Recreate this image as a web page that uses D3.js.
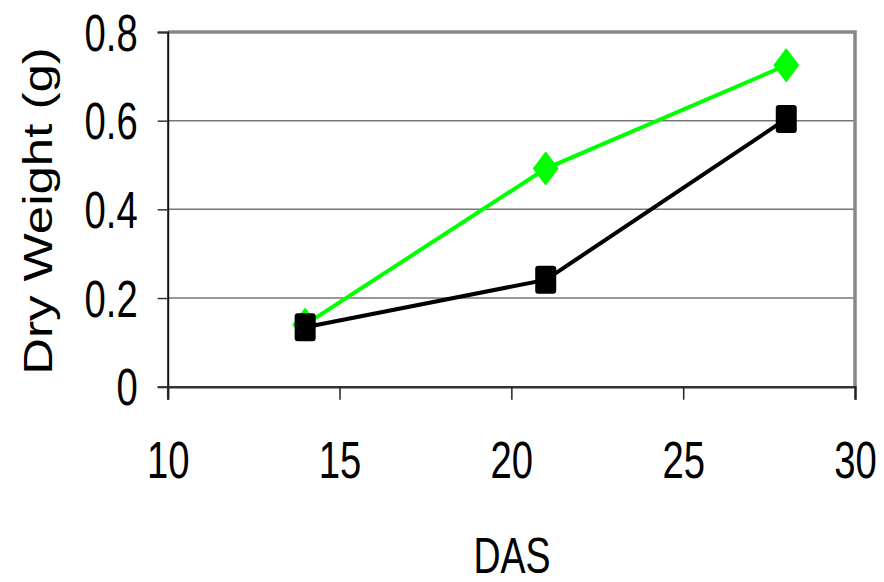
<!doctype html>
<html>
    <head>
        <script src="https://cdn.jsdelivr.net/npm/d3@7"></script>
        <style>
            html, body { margin: 0; padding: 0; background: #fff; }
            #viz svg { display: block; }
            text { font-family: "Liberation Sans", Arial, sans-serif; fill: #000; }
        </style>
    </head>
    <body>
        <div id="viz"></div>
        <script>
            // data
            var das = [14, 21, 28];
            var greenSeries = [0.14, 0.492, 0.725];
            var blackSeries = [0.134, 0.241, 0.604];
            var xTicks = [10, 15, 20, 25, 30];
            var yTicks = [0, 0.2, 0.4, 0.6, 0.8];

            var w = 884, h = 582;
            var plotLeft = 167.7, plotRight = 855, plotTop = 32, plotBottom = 386.7;
            var squeeze = 0.75; // glyphs in the reference are narrow

            var svg = d3.select("#viz").append("svg")
                .attr("width", w)
                .attr("height", h);

            var x = d3.scaleLinear().domain([10, 30]).range([plotLeft, plotRight]);
            var y = d3.scaleLinear().domain([0, 0.8]).range([plotBottom, plotTop]);

            // gridlines
            svg.selectAll("line.grid")
                .data(yTicks.filter(function (d) { return d > 0 && d < 0.8; }))
                .enter().append("line")
                    .attr("class", "grid")
                    .attr("x1", plotLeft).attr("x2", plotRight)
                    .attr("y1", function (d) { return y(d); })
                    .attr("y2", function (d) { return y(d); })
                    .attr("stroke", "#767676")
                    .attr("stroke-width", 1.5);

            // top and right frame
            svg.append("path")
                .attr("d", "M" + plotLeft + "," + plotTop + "H" + plotRight + "V" + plotBottom)
                .attr("fill", "none")
                .attr("stroke", "#888")
                .attr("stroke-width", 3.5);

            // y axis
            var yAxis = svg.append("g")
                .attr("transform", "translate(" + plotLeft + ",0)")
                .call(d3.axisLeft(y).tickValues(yTicks).tickSize(10).tickFormat(function (d) { return d === 0 ? "0" : d3.format(".1f")(d); }));
            yAxis.select(".domain").attr("stroke", "#111").attr("stroke-width", 2);
            yAxis.selectAll(".tick line").attr("stroke", "#333").attr("stroke-width", 1.5);
            yAxis.selectAll(".tick text")
                .attr("x", null).attr("dy", null)
                .attr("font-size", 51)
                .attr("text-anchor", "end")
                .attr("transform", "translate(-30,18) scale(" + squeeze + ",1)");

            // x axis
            var xAxis = svg.append("g")
                .attr("transform", "translate(0," + plotBottom + ")")
                .call(d3.axisBottom(x).tickValues(xTicks).tickSize(13).tickFormat(d3.format("d")));
            xAxis.select(".domain").attr("stroke", "#333").attr("stroke-width", 2.5);
            xAxis.selectAll(".tick line").attr("stroke", "#222").attr("stroke-width", 1.5);
            xAxis.selectAll(".tick text")
                .attr("y", null).attr("dy", null)
                .attr("font-size", 51)
                .attr("text-anchor", "middle")
                .attr("transform", "translate(0,91) scale(" + squeeze + ",1)");

            // axis titles
            svg.append("text")
                .attr("transform", "translate(52,211) rotate(-90) scale(1,0.79)")
                .attr("text-anchor", "middle")
                .attr("font-size", 51)
                .text("Dry Weight (g)");

            svg.append("text")
                .attr("transform", "translate(512,573) scale(" + squeeze + ",1)")
                .attr("text-anchor", "middle")
                .attr("font-size", 50)
                .text("DAS");

            var line = d3.line()
                .x(function (d) { return x(d[0]); })
                .y(function (d) { return y(d[1]); });

            // green series with diamonds
            var green = d3.zip(das, greenSeries);
            svg.append("path")
                .datum(green)
                .attr("d", line)
                .attr("fill", "none")
                .attr("stroke", "#00ff00")
                .attr("stroke-width", 4);
            svg.selectAll("path.diamond")
                .data(green)
                .enter().append("path")
                    .attr("class", "diamond")
                    .attr("d", "M0,-16L12,0L0,16L-12,0Z")
                    .attr("transform", function (d) { return "translate(" + x(d[0]) + "," + y(d[1]) + ")"; })
                    .attr("fill", "#00ff00")
                    .attr("stroke", "#00ff00")
                    .attr("stroke-width", 1.5)
                    .attr("stroke-linejoin", "round");

            // black series with squares
            var black = d3.zip(das, blackSeries);
            svg.append("path")
                .datum(black)
                .attr("d", line)
                .attr("fill", "none")
                .attr("stroke", "#000")
                .attr("stroke-width", 4);
            svg.selectAll("rect.square")
                .data(black)
                .enter().append("rect")
                    .attr("class", "square")
                    .attr("x", function (d) { return x(d[0]) - 10.5; })
                    .attr("y", function (d) { return y(d[1]) - 14; })
                    .attr("width", 21)
                    .attr("height", 28)
                    .attr("rx", 3)
                    .attr("fill", "#000");
        </script>
    </body>
</html>
